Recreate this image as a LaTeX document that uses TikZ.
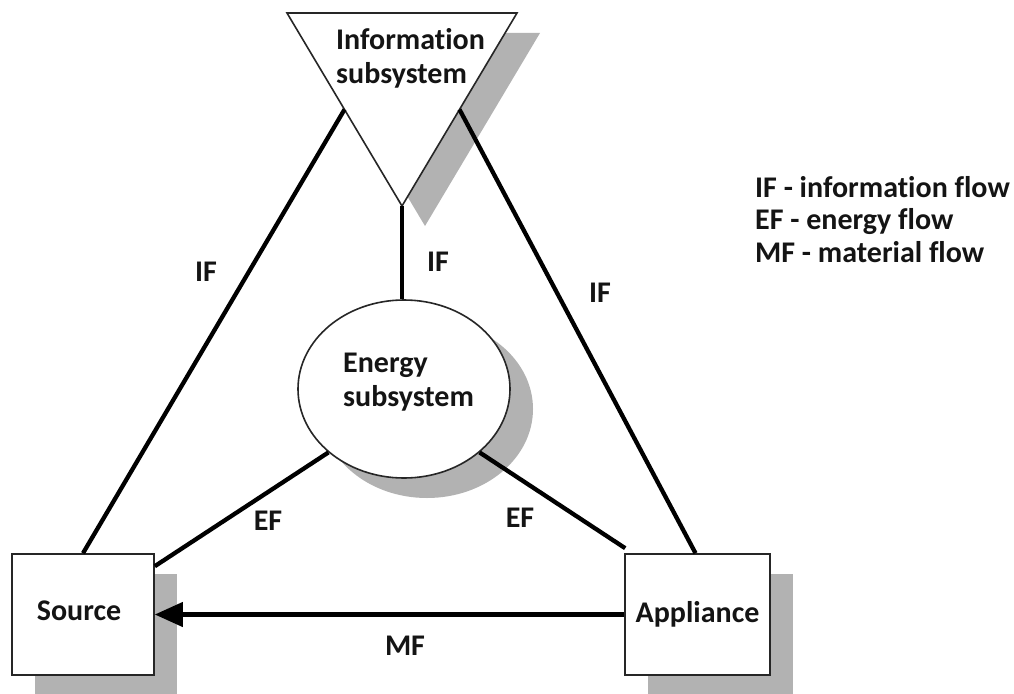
\documentclass[tikz,border=0pt]{standalone}
\usepackage{fontspec}
\setmainfont{Carlito}[Ligatures=NoCommon]
\usetikzlibrary{shapes.geometric,arrows.meta,shadows,calc}
\begin{document}
\begin{tikzpicture}[x=1pt,y=-1pt,
  lbl/.style={font=\fontsize{30}{34}\selectfont\bfseries, text=black!92, inner sep=0pt},
  box/.style={draw=black!85, line width=1.6pt, fill=white, inner sep=0pt,
    drop shadow={shadow xshift=23pt, shadow yshift=-20pt, fill=black!30, opacity=1}},
  conn/.style={line width=4.3pt, draw=black},
  shade/.style={fill=black!30, draw=none}
]
\useasboundingbox (0,0) rectangle (1014,693);
% information subsystem (inverted triangle)
\coordinate (tl) at (287,13);
\coordinate (tr) at (517,13);
\coordinate (tb) at (402,206);
\fill[shade] ($(tl)+(23,20)$) -- ($(tr)+(23,20)$) -- ($(tb)+(23,20)$) -- cycle;
\filldraw[fill=white, draw=black!85, line width=1.6pt] (tl) -- (tr) -- (tb) -- cycle;
\node[lbl, align=left, anchor=west] (info) at (336,58) {Information\\subsystem};
\coordinate (ifl) at ($(tl)!0.5!(tb)$);
\coordinate (ifr) at ($(tr)!0.5!(tb)$);
% energy subsystem
\node[ellipse, box, minimum width=212pt, minimum height=178pt] (ene) at (404,389) {};
\node[lbl, align=left, anchor=west] (enet) at (343,382) {Energy\\subsystem};
% source and appliance
\node[box, minimum width=142pt, minimum height=121pt] (src) at (83,614.5) {};
\node[lbl] (srct) at (79,611) {Source};
\node[box, minimum width=145pt, minimum height=121pt, lbl] (app) at (697.5,614.5) {Appliance};
\coordinate (srcE) at ($(src.north east)+(0,13)$);
% connectors
\draw[conn] (ifl) -- (src.north);
\draw[conn] (ifr) -- ($(app.north)+(-2,0)$);
\draw[conn] (tb) -- (tb |- ene.north);
\draw[conn] (ene.220) -- (srcE);
\draw[conn] (ene.320) -- ($(app.north west)+(1,-5)$);
\draw[conn, -{Triangle[length=28pt,width=24pt]}] (app.west) -- (src.east);
% labels
\node[lbl] (l1) at (206,272) {IF};
\node[lbl] (l2) at (438,262) {IF};
\node[lbl] (l3) at (600,293) {IF};
\node[lbl] (l4) at (268,521) {EF};
\node[lbl] (l5) at (520,518) {EF};
\node[lbl] (l6) at (405,646) {MF};
% legend
\node[lbl, anchor=base west] (g1) at (755,197) {IF - information flow};
\node[lbl, anchor=base west] (g2) at (755,229) {EF - energy flow};
\node[lbl, anchor=base west] (g3) at (755,262) {MF - material flow};
\end{tikzpicture}
\end{document}
